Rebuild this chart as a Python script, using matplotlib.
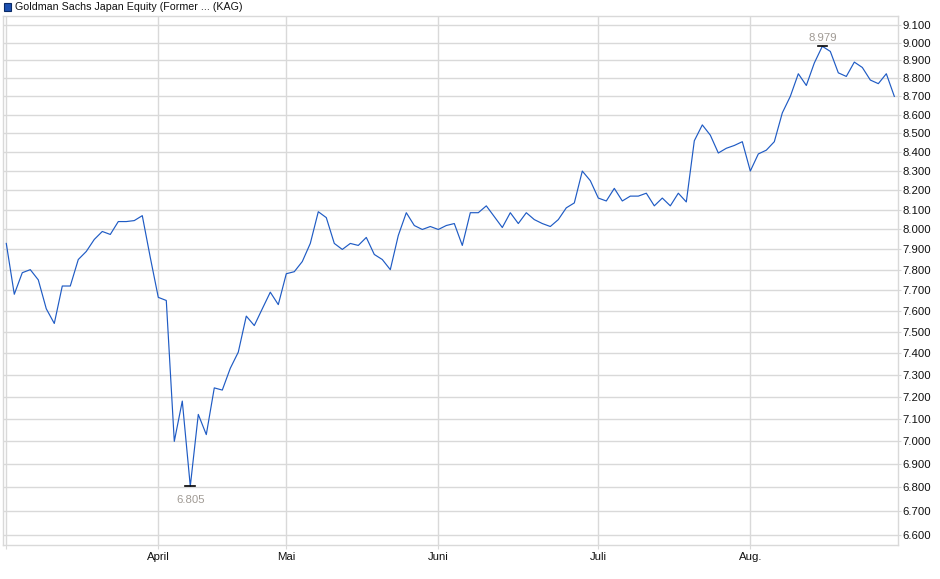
import numpy as np
import matplotlib.pyplot as plt
from matplotlib.ticker import FixedLocator, FuncFormatter, NullLocator

plt.rcParams['font.family'] = ['Liberation Sans', 'DejaVu Sans']

# fund price series (one point per trading day)
prices = [
    7.93, 7.68, 7.785, 7.80, 7.75, 7.61, 7.54, 7.72, 7.72, 7.85,
    7.89, 7.95, 7.99, 7.975, 8.04, 8.04, 8.045, 8.07, 7.86, 7.665,
    7.65, 7.00, 7.18, 6.805, 7.12, 7.03, 7.24, 7.23, 7.33, 7.405,
    7.575, 7.53, 7.61, 7.69, 7.63, 7.78, 7.79, 7.84, 7.93, 8.09,
    8.06, 7.93, 7.90, 7.93, 7.92, 7.96, 7.875, 7.85, 7.80, 7.97,
    8.085, 8.02, 8.00, 8.015, 8.00, 8.02, 8.03, 7.92, 8.085, 8.085,
    8.12, 8.065, 8.01, 8.085, 8.03, 8.085, 8.05, 8.03, 8.015, 8.05,
    8.11, 8.135, 8.30, 8.25, 8.16, 8.145, 8.21, 8.145, 8.17, 8.17,
    8.185, 8.12, 8.16, 8.12, 8.185, 8.14, 8.46, 8.545, 8.49, 8.395,
    8.42, 8.435, 8.455, 8.30, 8.39, 8.41, 8.455, 8.61, 8.70, 8.825,
    8.76, 8.885, 8.979, 8.95, 8.83, 8.81, 8.89, 8.86, 8.79, 8.77,
    8.825, 8.70,
]
month_labels = ['', 'April', 'Mai', 'Juni', 'Juli', 'Aug.']
month_idx = [0, 19, 35, 54, 74, 93]
y_ticks = [round(6.6 + 0.1 * i, 1) for i in range(26)]
title = 'Goldman Sachs Japan Equity (Former ... (KAG)'

x = np.arange(len(prices))
grid_c = '#d9d9d9'

fig = plt.figure(figsize=(9.4, 5.79), dpi=100)
ax = fig.add_axes([3 / 940, 34 / 579, 895 / 940, 529 / 579])

ax.plot(x, prices, color='#1f5bc4', lw=0.85, zorder=3)

ax.set_yscale('log')
ax.set_ylim(6.5575, 9.152)
ax.set_xlim(-0.41, 111.46)

ax.yaxis.set_major_locator(FixedLocator(y_ticks))
ax.yaxis.set_minor_locator(NullLocator())
ax.yaxis.set_major_formatter(FuncFormatter(lambda v, p: f'{v:.3f}'))
ax.yaxis.tick_right()
ax.tick_params(axis='y', length=2, color=grid_c, pad=1, labelsize=8.2,
               labelcolor='#111111')

ax.set_xticks(month_idx)
ax.set_xticklabels(month_labels)
ax.tick_params(axis='x', length=3, color=grid_c, pad=2, labelsize=8.2,
               labelcolor='#111111')

ax.grid(True, color=grid_c, lw=1.0)
ax.set_axisbelow(True)
for s in ax.spines.values():
    s.set_color(grid_c)
    s.set_linewidth(1.0)

# min / max markers
i_max = int(np.argmax(prices))
i_min = int(np.argmin(prices))
for i, off, va in [(i_max, 2.5, 'bottom'), (i_min, -6, 'top')]:
    ax.plot([i - 0.6, i + 0.6], [prices[i], prices[i]], color='black',
            lw=1.2, zorder=4)
    ax.annotate(f'{prices[i]:.3f}', (i, prices[i]), xytext=(0, off),
                textcoords='offset points', ha='center', va=va,
                fontsize=8.2, color='#a09a94')

# legend-like title
fig.patches.append(plt.Rectangle((4 / 940, 1 - 11 / 579), 7 / 940, 8 / 579,
                                 transform=fig.transFigure,
                                 facecolor='#1c50b0', edgecolor='#0a2a66',
                                 lw=0.8))
fig.text(15 / 940, 1 - 6.5 / 579, title, fontsize=7.7, va='center',
         ha='left', color='#111111')

fig.savefig('out.png', dpi=100)
